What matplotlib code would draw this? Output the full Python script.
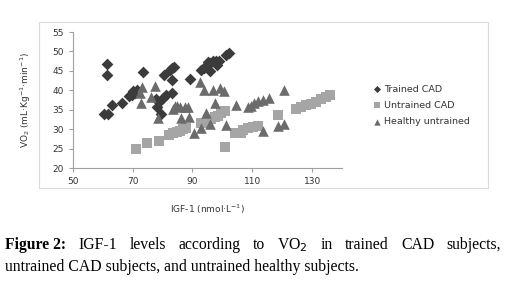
import matplotlib.pyplot as plt
from matplotlib.patches import Rectangle

# Trained CAD (IGF-1, VO2)
trained_x = [60.6, 61.7, 61.6, 61.6, 63.2, 66.6, 68.7, 69.7, 70.2, 70.8, 71.6, 73.6,
             77.8, 78.3, 78.9, 79.4, 80.2, 81.1, 80.6, 82.4, 83.3, 83.8, 83.3, 83.3,
             89.3, 93.0, 93.8, 94.7, 95.2, 95.8, 96.0, 96.9, 97.8, 98.2, 98.9, 101.3, 102.2]
trained_y = [33.8, 34.0, 46.8, 43.9, 36.1, 36.6, 38.5, 38.8, 39.9, 39.2, 40.1, 44.7,
             37.7, 35.8, 37.1, 33.9, 37.9, 38.8, 43.9, 45.3, 45.8, 46.1, 42.7, 39.2,
             43.0, 45.1, 45.7, 46.6, 47.2, 47.0, 45.0, 47.6, 47.6, 46.6, 47.6, 49.1, 49.6]

# Untrained CAD
untrained_x = [71.3, 74.7, 78.9, 82.2, 83.6, 84.7, 85.8, 86.9, 88.0, 93.0, 94.1, 95.2,
               96.3, 97.4, 98.6, 99.7, 100.8, 100.8, 104.1, 106.3, 106.9, 108.5, 110.2,
               111.9, 118.5, 124.7, 126.3, 128.0, 129.7, 131.3, 133.0, 134.7, 136.0]
untrained_y = [25.0, 26.5, 26.9, 28.6, 28.9, 29.2, 29.5, 30.0, 30.2, 31.5, 31.7, 32.3,
               32.6, 33.0, 33.4, 34.1, 34.7, 25.4, 29.1, 28.9, 29.7, 30.2, 30.6,
               30.9, 33.6, 35.2, 35.6, 36.1, 36.5, 37.1, 37.7, 38.2, 38.8]

# Healthy untrained
healthy_x = [72.4, 73.3, 72.7, 77.4, 76.3, 78.6, 84.1, 83.6, 84.7, 85.8, 87.4, 88.6,
             86.3, 88.8, 90.6, 93.0, 92.4, 93.8, 94.4, 95.8, 96.9, 97.4, 99.1, 100.4,
             101.1, 104.7, 108.5, 109.6, 110.7, 111.9, 113.5, 115.7, 113.5, 118.5,
             120.7, 120.7]
healthy_y = [39.4, 40.8, 36.8, 41.1, 38.4, 32.8, 36.0, 35.1, 35.9, 35.6, 35.8, 35.8,
             32.8, 33.2, 28.9, 30.2, 42.2, 40.1, 34.2, 31.3, 40.1, 36.8, 40.6, 39.7,
             31.0, 36.2, 35.8, 35.9, 36.6, 37.2, 37.5, 37.9, 29.6, 30.8,
             31.2, 40.0]

x_ticks = [50, 70, 90, 110, 130]
y_ticks = [20, 25, 30, 35, 40, 45, 50, 55]

caption_1 = ['Figure 2:', 'IGF-1', 'levels', 'according', 'to', 'VO$_2$', 'in',
             'trained', 'CAD', 'subjects,']
caption_2 = 'untrained CAD subjects, and untrained healthy subjects.'

W, H = 508, 296
fig = plt.figure(figsize=(W / 100, H / 100), dpi=100)

# light frame around the chart
fig.patches.append(Rectangle((39 / W, 1 - 188 / H), (488 - 39) / W, (188 - 22) / H,
                             transform=fig.transFigure, fill=False,
                             edgecolor='#d9d9d9', linewidth=0.8))

ax = fig.add_axes([72.7 / W, 1 - 168 / H, (341.5 - 72.7) / W, (168 - 32) / H])
ax.scatter(trained_x, trained_y, marker='D', s=36, color='#3b3b3b', label='Trained CAD',
           linewidths=0)
ax.scatter(untrained_x, untrained_y, marker='s', s=52, color='#a5a5a5', label='Untrained CAD',
           linewidths=0)
ax.scatter(healthy_x, healthy_y, marker='^', s=58, color='#6b6b6b', label='Healthy untrained',
           linewidths=0)

ax.set_xlim(50, 139.8)
ax.set_ylim(20, 55)
ax.set_xticks(x_ticks)
ax.set_yticks(y_ticks)
for s in ['top', 'right']:
    ax.spines[s].set_visible(False)
for s in ['left', 'bottom']:
    ax.spines[s].set_color('#a0a0a0')
    ax.spines[s].set_linewidth(0.8)
ax.tick_params(colors='#a0a0a0', labelcolor='#333333', labelsize=6.5, length=3, width=0.8)

ax.set_xlabel('IGF-1 (nmol·L$^{-1}$)', fontsize=6.5, color='#333333', labelpad=12)
ax.set_ylabel('VO$_2$ (mL·Kg$^{-1}$·min$^{-1}$)', fontsize=6.5, color='#333333', labelpad=14)

ax.legend(loc='center left', bbox_to_anchor=(1.08, 0.46), frameon=False, fontsize=6.8,
          handletextpad=0.1, labelspacing=0.75, markerscale=0.6, handlelength=1.2,
          labelcolor='#333333')

# caption, first line justified between x=5 and x=501
renderer = fig.canvas.get_renderer()
words = []
for i, w in enumerate(caption_1):
    t = fig.text(0, 1 - 245 / H, w, fontsize=11.3, family='Liberation Serif', va='center',
                 fontweight='bold' if i == 0 else 'normal')
    words.append(t)
widths = [t.get_window_extent(renderer).width for t in words]
gap = (501 - 5 - sum(widths)) / (len(words) - 1)
x = 5
for t, wd in zip(words, widths):
    t.set_x(x / W)
    x += wd + gap
fig.text(5 / W, 1 - 267 / H, caption_2, fontsize=11.3, family='Liberation Serif', va='center')

fig.savefig('out.png', dpi=100)
